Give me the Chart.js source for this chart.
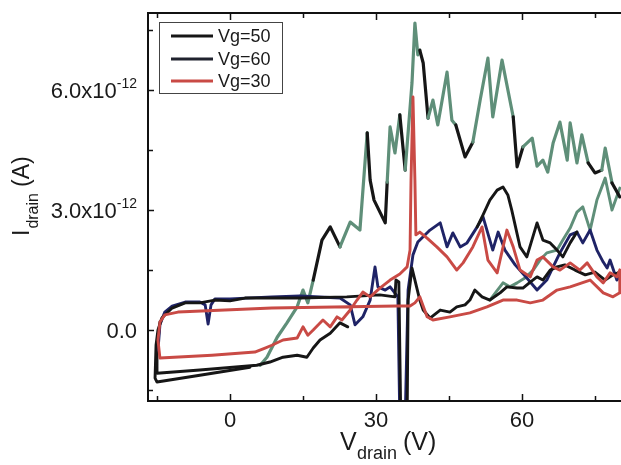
<!DOCTYPE html>
<html>
<head>
<meta charset="utf-8">
<script src="https://cdn.jsdelivr.net/npm/chart.js@4"></script>
<style>
  html, body { margin: 0; padding: 0; background: #fff; }
  #box { width: 621px; height: 465px; }
</style>
</head>
<body>
<div id="box"><canvas id="myChart" width="621" height="465"></canvas></div>
<script>
// drain current in units of 1e-12 A, drain voltage in V

// Vg=50, black: low branch, left edge, flat upper branch, spike, low right branch
const vg50X = [4.1, -6.2, -15.0, -15.4, -15.2, -14.8, -14.0, -11.9, -9.2, -6.2, -3.1, 0, 3.1, 8.6, 14.4, 24.0, 30.8, 33.9, 34.1, 34.7, 35.1, 36.4, 36.6, 37.4, 39.0, 39.7, 41.1, 43.2, 45.2, 46.6, 48.3, 49.3, 50.3, 51.8, 53.4, 55.5, 56.9, 59.0, 60.2, 61.7, 63.1, 64.3, 65.8, 67.2, 68.8, 70.9, 73.0, 75.0, 77.1, 78.7, 80.1];
const vg50Y = [-0.93, -1.13, -1.3, -1.2, -0.38, 0, 0.3, 0.55, 0.68, 0.68, 0.75, 0.73, 0.8, 0.8, 0.8, 0.83, 0.88, 0.83, 1.25, 1.2, -2.25, -2.25, 0.75, 1.55, 0.75, 0.5, 0.3, 0.5, 0.45, 0.58, 0.63, 0.75, 1.0, 0.83, 0.75, 0.93, 1.08, 1.05, 1.05, 1.2, 1.33, 1.25, 1.5, 1.58, 1.63, 1.5, 1.38, 1.45, 1.25, 1.38, 1.45];

// Vg=50 return sweep (black, second low branch)
const vg50RetX = [-14.4, -15.0, -15.0, -6.2, 5.5, 8.2, 10.9, 13.8, 15.8, 17.1, 18.5, 20.6, 22.6, 24.2];
const vg50RetY = [0.2, -0.5, -1.08, -1.0, -0.88, -0.8, -0.68, -0.63, -0.68, -0.45, -0.25, -0.08, 0.18, 0.08];

// black middle branch with the peak near 56 V
const vg50MidX = [50.8, 52.0, 53.4, 54.9, 56.1, 57.1, 57.9, 59.6, 61.0, 63.1, 64.3, 65.8, 67.2, 68.4, 69.9, 71.3];
const vg50MidY = [2.58, 2.88, 3.25, 3.5, 3.58, 3.38, 3.0, 2.08, 1.83, 2.68, 2.25, 2.18, 2.0, 1.83, 2.18, 2.45];

// Vg=60, navy
const vg60X = [-14.8, -14.4, -13.4, -11.9, -9.2, -6.2, -5.1, -4.5, -3.9, -3.1, 0, 8.6, 14.4, 22.6, 24.7, 25.7, 27.3, 28.8, 29.8, 30.4, 31.9, 32.9, 34.5, 34.9, 36.0, 36.6, 37.6, 38.6, 41.1, 43.2, 44.6, 45.8, 47.3, 48.7, 50.8, 52.0, 54.0, 55.1, 56.5, 58.6, 61.0, 63.1, 65.1, 66.4, 67.8, 69.9, 71.3, 72.5, 74.0, 75.4, 76.7, 77.5, 78.1, 79.5, 80.1];
const vg60Y = [-0.5, 0.13, 0.45, 0.6, 0.7, 0.7, 0.63, 0.15, 0.63, 0.78, 0.78, 0.83, 0.85, 0.8, 0.63, 0.13, 0.33, 0.75, 1.58, 1.08, 1.0, 1.08, 0.83, -2.25, -2.25, 1.0, 1.88, 2.2, 2.5, 2.68, 2.08, 2.43, 2.08, 2.18, 2.58, 2.83, 2.0, 2.45, 2.0, 1.63, 1.3, 1.0, 1.25, 1.58, 1.93, 2.38, 2.45, 2.18, 2.5, 2.0, 1.7, 1.55, 1.75, 1.25, 1.33];

// Vg=30, red: full loop
const vg30X = [-14.8, -14.4, -3.7, 5.1, 7.2, 8.6, 10.9, 13.8, 15.0, 16.0, 17.1, 19.1, 20.6, 22.0, 23.0, 24.7, 26.1, 27.3, 28.8, 30.8, 32.9, 34.9, 36.4, 37.0, 37.2, 37.6, 38.0, 38.2, 39.0, 40.5, 42.5, 44.6, 46.6, 47.9, 49.9, 51.8, 53.0, 54.9, 56.9, 58.2, 59.6, 61.7, 63.1, 64.3, 66.4, 67.8, 69.9, 71.9, 73.4, 75.4, 76.7, 78.1, 79.5, 80.1,
  80.1, 78.7, 76.7, 74.0, 69.9, 67.2, 64.3, 61.7, 59.0, 56.1, 52.8, 49.3, 45.2, 41.7, 40.5, 39.0, 38.0, 37.0, 34.3, 8.6, -10.7, -13.4, -14.4, -14.8];
const vg30Y = [-0.25, -0.7, -0.63, -0.55, -0.45, -0.38, -0.25, -0.2, 0.08, -0.13, 0, 0.25, 0.08, 0.33, 0.25, 0.5, 0.75, 0.95, 0.83, 1.05, 1.25, 1.4, 1.58, 2.0, 3.75, 5.83, 3.75, 2.38, 2.45, 2.3, 2.08, 1.83, 1.5, 1.68, 2.08, 2.58, 1.75, 1.43, 2.5, 2.08, 1.5, 1.33, 1.75, 1.83, 1.58, 1.5, 1.68, 1.5, 1.68, 1.33, 1.18, 1.43, 1.33, 1.5,
  0.93, 0.83, 0.93, 1.25, 1.08, 1.0, 0.75, 0.68, 0.75, 0.75, 0.58, 0.43, 0.33, 0.25, 0.33, 0.83, 0.68, 0.6, 0.6, 0.55, 0.45, 0.38, 0.2, -0.25];

// green-grey upper sweep (not in legend)
const upX = [6.2, 7.6, 9.7, 11.7, 13.8, 15.0, 16.0, 17.1, 18.9, 20.6, 22.6, 24.7, 26.7, 28.2, 28.8, 29.6, 31.9, 32.3, 32.9, 33.9, 34.9, 36.0, 37.4, 38.0, 38.6, 39.0, 39.7, 40.7, 41.7, 42.7, 44.6, 45.6, 46.4, 48.3, 49.9, 51.4, 53.0, 54.0, 55.9, 58.2, 59.0, 60.2, 62.1, 63.1, 64.3, 65.3, 66.4, 67.8, 69.3, 69.9, 71.3, 72.3, 73.6, 75.0, 76.4, 77.1, 78.5, 80.1];
const upY = [-0.88, -0.68, -0.18, 0.18, 0.58, 1.0, 0.68, 1.25, 2.25, 2.58, 2.08, 2.7, 2.5, 4.93, 3.75, 3.25, 2.68, 3.7, 5.08, 4.43, 5.38, 4.0, 6.18, 7.68, 6.88, 7.0, 6.68, 5.3, 5.75, 5.13, 6.45, 5.25, 5.13, 4.33, 4.7, 5.75, 6.8, 5.33, 6.75, 5.33, 4.08, 4.58, 4.8, 4.1, 4.25, 3.95, 4.68, 5.2, 4.25, 5.18, 4.18, 4.88, 4.18, 3.93, 4.0, 4.55, 3.68, 3.33];

// green-grey lower right branch
const lowGX = [53.4, 56.1, 57.5, 59.0, 60.6, 62.3, 63.7, 65.1, 67.2, 68.4, 69.9, 71.3, 72.5, 74.0, 75.4, 77.1, 78.5, 80.1];
const lowGY = [0.75, 1.18, 1.08, 1.18, 1.3, 1.5, 1.75, 1.93, 2.0, 2.25, 2.55, 2.95, 3.08, 2.5, 3.25, 3.8, 3.0, 3.55];

// axis ticks
const xMajor = [0, 30, 60];
const xMinor = [-15, 15, 45, 75];
const xTickLabels = ['0', '30', '60'];
const yMajor = [0, 3, 6];
const yMinor = [-1.5, 1.5, 4.5, 7.5];
const yTickLabels = ['0.0', '3.0x10', '6.0x10'];
const yTickExp = ['', '-12', '-12'];

const legendNames = ['Vg=50', 'Vg=60', 'Vg=30'];

const BLACK = '#161616';
const NAVY = '#1f2366';
const RED = '#c94a45';
const GREEN = '#5f8f79';
const FONT = '"Liberation Sans", Arial, sans-serif';

// parts of the upper sweep where the black trace shows through
const blackBits = [[17, 23.6], [28.2, 32.5], [34.9, 36], [39, 40.7], [46.4, 49.3], [58.2, 59.6], [74, 76], [78.5, 80.2]];

function pts(xs, ys) {
  return xs.map((v, i) => ({ x: v, y: ys[i] }));
}

function line(data, color, w, label) {
  return {
    label: label || '',
    data: data,
    borderColor: color,
    backgroundColor: color,
    borderWidth: w,
    showLine: true,
    pointRadius: 0,
    tension: 0,
    fill: false,
    borderJoinStyle: 'round',
    borderCapStyle: 'round'
  };
}

const upLine = line(pts(upX, upY), GREEN, 3.2);
upLine.segment = {
  borderColor: c => {
    const m = (c.p0.parsed.x + c.p1.parsed.x) / 2;
    return blackBits.some(r => m >= r[0] && m <= r[1]) ? BLACK : undefined;
  }
};

const datasets = [
  line(pts(vg30X, vg30Y), RED, 2.9, legendNames[2]),
  line(pts(vg50X, vg50Y), BLACK, 2.9, legendNames[0]),
  line(pts(vg50MidX, vg50MidY), BLACK, 2.9),
  line(pts(vg60X, vg60Y), NAVY, 2.9, legendNames[1]),
  line(pts(vg50RetX, vg50RetY), BLACK, 2.9),
  upLine,
  line(pts(lowGX, lowGY), GREEN, 2.9)
];

const legendColors = [BLACK, '#20222e', RED];

const decor = {
  id: 'decor',
  afterDatasetsDraw(chart) {
    const { ctx, chartArea: a, scales: { x, y } } = chart;
    ctx.save();
    ctx.strokeStyle = '#111';
    ctx.fillStyle = '#1a1a1a';

    // frame
    ctx.lineWidth = 2;
    ctx.beginPath();
    ctx.moveTo(a.right + 2, a.top);
    ctx.lineTo(a.left, a.top);
    ctx.lineTo(a.left, a.bottom);
    ctx.lineTo(a.right + 2, a.bottom);
    ctx.stroke();

    // ticks pointing inward
    ctx.lineWidth = 1.5;
    ctx.beginPath();
    xMajor.concat(xMinor).forEach(v => {
      const px = Math.round(x.getPixelForValue(v)) + 0.5;
      const len = xMajor.includes(v) ? 7 : 5;
      ctx.moveTo(px, a.bottom); ctx.lineTo(px, a.bottom - len);
      ctx.moveTo(px, a.top); ctx.lineTo(px, a.top + len);
    });
    yMajor.concat(yMinor).forEach(v => {
      const py = Math.round(y.getPixelForValue(v)) + 0.5;
      const len = yMajor.includes(v) ? 6 : 5;
      ctx.moveTo(a.left, py); ctx.lineTo(a.left + len, py);
    });
    ctx.stroke();

    // x tick labels
    ctx.font = '22px ' + FONT;
    ctx.textAlign = 'center';
    ctx.textBaseline = 'alphabetic';
    xMajor.forEach((v, i) => {
      ctx.fillText(xTickLabels[i], x.getPixelForValue(v), 427);
    });

    // y tick labels with exponent
    const right = 137;
    yMajor.forEach((v, i) => {
      const py = y.getPixelForValue(v);
      ctx.font = '14px ' + FONT;
      const ew = ctx.measureText(yTickExp[i]).width;
      ctx.textAlign = 'right';
      if (yTickExp[i]) ctx.fillText(yTickExp[i], right, py - 2);
      ctx.font = '22px ' + FONT;
      ctx.fillText(yTickLabels[i], right - ew, py + 8);
    });

    // x axis title
    ctx.textAlign = 'left';
    ctx.font = '25px ' + FONT;
    ctx.fillText('V', 340, 450);
    ctx.font = '18px ' + FONT;
    ctx.fillText('drain', 357, 459);
    ctx.font = '25px ' + FONT;
    ctx.fillText('(V)', 403, 450);

    // y axis title
    ctx.save();
    ctx.translate(29, 236);
    ctx.rotate(-Math.PI / 2);
    ctx.font = '23px ' + FONT;
    ctx.fillText('I', 0, 0);
    const iw = ctx.measureText('I').width;
    ctx.font = '16px ' + FONT;
    ctx.fillText('drain', iw + 1, 9);
    const dw = ctx.measureText('drain').width;
    ctx.font = '23px ' + FONT;
    ctx.fillText('(A)', iw + dw + 7, 0);
    ctx.restore();

    // legend
    ctx.fillStyle = '#fff';
    ctx.fillRect(159, 22, 123, 71);
    ctx.lineWidth = 1;
    ctx.strokeStyle = '#444';
    ctx.strokeRect(159.5, 22.5, 123, 71);
    const rows = [36, 59, 81];
    legendNames.forEach((name, i) => {
      ctx.strokeStyle = legendColors[i];
      ctx.lineWidth = 2.8;
      ctx.beginPath();
      ctx.moveTo(171, rows[i]); ctx.lineTo(213, rows[i]);
      ctx.stroke();
      ctx.fillStyle = '#1a1a1a';
      ctx.font = '18px ' + FONT;
      ctx.textBaseline = 'middle';
      ctx.fillText(name, 218, rows[i] + 1);
    });
    ctx.restore();
  }
};

const ctx = document.querySelector('#myChart');

const myChart = new Chart(ctx, {
  type: 'scatter',
  data: { datasets: datasets },
  options: {
    responsive: false,
    animation: false,
    devicePixelRatio: 1,
    layout: { padding: { left: 148, top: 13, right: 0, bottom: 64 } },
    plugins: {
      legend: { display: false },
      tooltip: { enabled: false }
    },
    scales: {
      x: { type: 'linear', min: -16.85, max: 80.35, display: false },
      y: { type: 'linear', min: -1.775, max: 7.93, display: false }
    }
  },
  plugins: [decor]
});
</script>
</body>
</html>
